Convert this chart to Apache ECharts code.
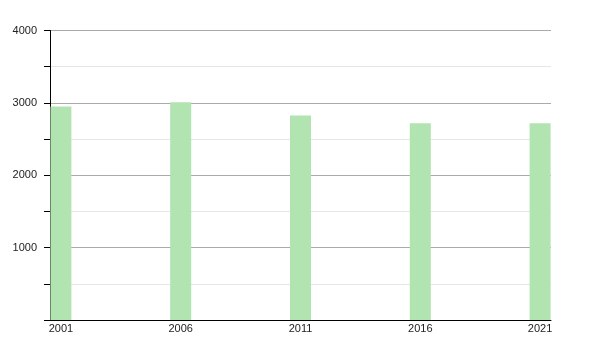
<!DOCTYPE html>
<html>
<head>
<meta charset="utf-8">
<script src="https://cdn.jsdelivr.net/npm/echarts@6/dist/echarts.min.js"></script>
<style>html,body{margin:0;padding:0;background:#fff}#c{width:600px;height:350px}</style>
</head>
<body>
<div id="c"></div>
<script>
var years = ['2001', '2006', '2011', '2016', '2021'];
var values = [2950, 3008, 2825, 2720, 2718];
var yMin = 0, yMax = 4000, yStep = 500, yLabelStep = 1000;

var chart = echarts.init(document.getElementById('c'), null, {renderer: 'canvas'});
var font = 'Liberation Sans, Arial, sans-serif';
chart.setOption({
  animation: false,
  grid: [
    {left: 50, top: 30.5, width: 501, height: 289.5},
    {left: 1, top: 30.5, width: 600, height: 289.5}
  ],
  xAxis: [
    {gridIndex: 0, type: 'value', min: 0, max: 1,
     axisLine: {show: true, onZero: false, lineStyle: {color: '#000', width: 1}},
     axisTick: {show: false}, axisLabel: {show: false}, splitLine: {show: false}},
    {gridIndex: 1, type: 'category', data: years, boundaryGap: true,
     axisLine: {show: false}, axisTick: {show: false}, splitLine: {show: false},
     axisLabel: {show: true, color: '#222', fontSize: 11, fontFamily: font, margin: 3}}
  ],
  yAxis: [
    {gridIndex: 0, type: 'value', min: yMin, max: yMax, interval: yStep,
     axisLine: {show: true, lineStyle: {color: '#000', width: 1}},
     axisTick: {show: true, length: 6, inside: false, lineStyle: {color: '#000'}},
     axisLabel: {color: '#222', fontSize: 11, fontFamily: font, margin: 13,
       formatter: function (v) { return (v > 0 && v % yLabelStep === 0) ? String(v) : ''; }},
     splitLine: {show: true, lineStyle: {color: ['#ffffff', '#e6e6e6', '#aaaaaa', '#e6e6e6', '#aaaaaa', '#e6e6e6', '#aaaaaa', '#e6e6e6', '#aaaaaa'], width: 1}}},
    {gridIndex: 1, type: 'value', min: yMin, max: yMax, show: false}
  ],
  series: [{
    type: 'bar', xAxisIndex: 1, yAxisIndex: 1, data: values, barWidth: 21,
    itemStyle: {color: '#b1e4b1'}
  }]
});
</script>
</body>
</html>
